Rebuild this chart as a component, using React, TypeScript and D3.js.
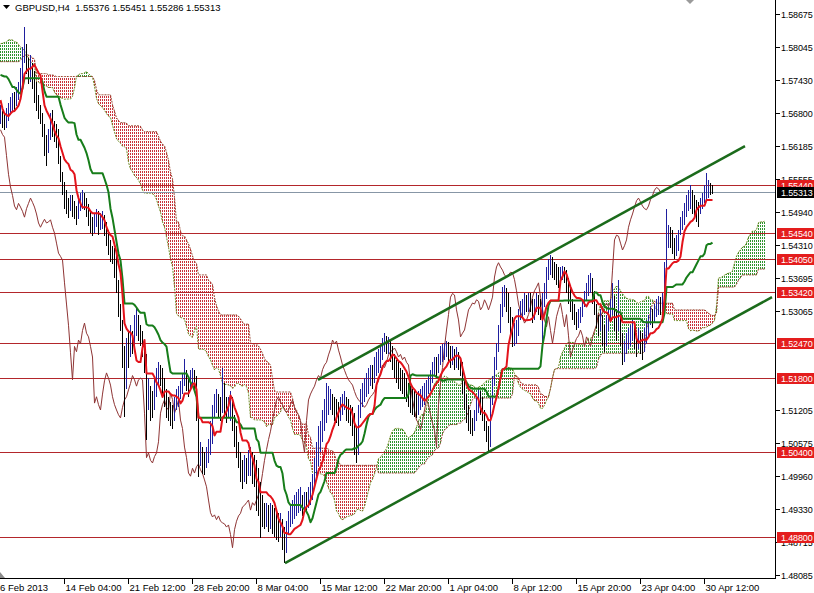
import React, { useEffect } from "react";
import * as d3 from "d3";

// ---------- data ----------
const SYMBOL = "GBPUSD,H4";
const LAST_OHLC = [1.55376, 1.55451, 1.55286, 1.55313];
const BID = 1.55313;
// prices are stored as pips above BASE
const BASE = 1.48;
const PIP = 0.0001;

// 78 H4 bars before the first visible bar (needed by the Ichimoku windows)
const PRE_HIGH = [
  945, 955, 945, 930, 935, 950, 960, 958, 945, 935,
  930, 940, 955, 965, 960, 970, 980, 975, 985, 995,
  980, 990, 1000, 995, 985, 995, 1005, 1010, 1000, 1005,
  1010, 1015, 1025, 1020, 1030, 1035, 1030, 1040, 1050, 1045,
  1025, 1020, 1030, 1025, 1015, 1020, 1030, 1035, 1040, 1030,
  1040, 1035, 1030, 1025, 1035, 1040, 1050, 1040, 1025, 1010,
  1010, 1000, 990, 985, 975, 970, 960, 955, 950, 945,
  955, 925, 910, 905, 900, 895, 885, 890,
];
const PRE_LOW = [
  915, 920, 910, 905, 907, 915, 930, 925, 915, 908,
  905, 910, 920, 935, 930, 940, 950, 945, 955, 965,
  950, 960, 970, 965, 955, 965, 975, 980, 970, 975,
  980, 985, 995, 990, 1000, 1005, 1000, 1010, 1020, 1015,
  995, 990, 1000, 995, 985, 990, 1000, 1005, 1010, 1000,
  1010, 1000, 995, 990, 1000, 1010, 1015, 1000, 990, 980,
  980, 970, 960, 955, 945, 940, 930, 925, 920, 915,
  860, 895, 885, 880, 875, 870, 855, 860,
];
const PRE_CLOSE = [
  930, 940, 925, 915, 920, 935, 945, 940, 930, 920,
  915, 925, 940, 950, 945, 955, 965, 960, 970, 980,
  965, 975, 985, 980, 970, 980, 990, 995, 985, 990,
  995, 1000, 1010, 1005, 1015, 1020, 1015, 1025, 1035, 1030,
  1010, 1005, 1015, 1010, 1000, 1005, 1015, 1020, 1025, 1015,
  1025, 1015, 1010, 1005, 1020, 1030, 1035, 1015, 1000, 990,
  995, 985, 975, 970, 960, 955, 945, 940, 935, 930,
  915, 905, 895, 890, 885, 880, 870, 875,
];

// visible bars (6 Feb 2013 .. 30 Apr 2013)
const HIGH = [
  895, 885, 878, 890, 900, 910, 918, 920, 930, 940,
  965, 1005, 1043, 1010, 985, 990, 975, 960, 940, 915,
  895, 880, 860, 840, 850, 880, 886, 865, 860, 850,
  800, 770, 750, 735, 720, 725, 725, 715, 705, 720,
  730, 735, 730, 720, 708, 695, 685, 690, 700, 695,
  692, 695, 688, 675, 660, 640, 630, 625, 615, 565,
  520, 490, 440, 455, 470, 480, 470, 500, 514, 500,
  480, 470, 450, 425, 380, 365, 355, 380, 400, 410,
  405, 400, 380, 360, 345, 335, 330, 345, 360, 365,
  375, 390, 417, 395, 385, 395, 400, 395, 385, 320,
  260, 250, 240, 250, 265, 300, 330, 350, 360, 350,
  345, 400, 370, 345, 345, 355, 345, 310, 290, 260,
  240, 225, 235, 230, 245, 250, 240, 235, 225, 210,
  185, 160, 145, 145, 140, 145, 140, 135, 130, 125,
  126, 115, 100, 110, 130, 140, 150, 160, 165, 170,
  175, 160, 165, 165, 175, 185, 200, 230, 260, 290,
  300, 320, 340, 371, 365, 360, 350, 345, 340, 335,
  345, 350, 355, 345, 340, 330, 325, 315, 290, 330,
  360, 370, 380, 390, 400, 405, 405, 420, 430, 435,
  440, 455, 465, 460, 458, 450, 440, 425, 415, 410,
  400, 395, 390, 380, 370, 365, 360, 355, 350, 355,
  360, 365, 370, 377, 385, 395, 410, 420, 420, 425,
  440, 445, 446, 450, 448, 440, 440, 435, 438, 430,
  420, 410, 380, 350, 330, 320, 305, 320, 345, 360,
  355, 345, 320, 300, 290, 345, 385, 420, 446, 480,
  520, 552, 555, 550, 540, 515, 495, 485, 490, 510,
  525, 530, 540, 538, 541, 540, 530, 530, 541, 538,
  530, 540, 560, 590, 605, 613, 608, 600, 595, 590,
  590, 592, 590, 584, 570, 550, 530, 520, 505, 510,
  515, 530, 545, 560, 575, 579, 570, 545, 520, 500,
  510, 500, 480, 500, 515, 530, 560, 535, 510, 566,
  505, 465, 450, 465, 475, 480, 490, 480, 465, 475,
  470, 465, 475, 490, 500, 515, 510, 520, 530, 535,
  533, 540, 600, 699, 670, 665, 660, 645, 650, 660,
  684, 695, 710, 725, 735, 745, 735, 725, 717, 712,
  720, 730, 745, 767, 755, 748, 745.1,
];
const LOW = [
  860, 852, 849, 852, 866, 876, 885, 885, 893, 905,
  920, 935, 975, 955, 935, 940, 925, 900, 885, 870,
  860, 835, 800, 780, 805, 830, 835, 825, 815, 785,
  750, 725, 700, 690, 682, 695, 685, 680, 670, 680,
  695, 700, 698, 685, 668, 655, 648, 655, 665, 650,
  660, 662, 648, 630, 612, 600, 595, 570, 540, 495,
  470, 400, 307, 360, 400, 420, 425, 440, 460, 450,
  440, 420, 390, 264, 320, 300, 305, 320, 345, 365,
  365, 345, 325, 305, 300, 290, 285, 300, 320, 325,
  340, 350, 365, 355, 345, 360, 365, 360, 300, 194,
  215, 200, 198, 210, 220, 235, 255, 305, 315, 305,
  300, 315, 305, 295, 305, 300, 280, 250, 230, 210,
  185, 170, 185, 180, 195, 195, 180, 175, 130, 120,
  79, 100, 95, 100, 90, 95, 85, 80, 75, 70,
  80, 55, 31, 50, 85, 100, 105, 115, 120, 125,
  130, 120, 125, 125, 135, 140, 150, 170, 195, 215,
  240, 260, 280, 295, 310, 320, 310, 300, 295, 290,
  300, 310, 320, 300, 295, 290, 270, 235, 220, 235,
  305, 325, 335, 345, 350, 365, 360, 370, 385, 390,
  400, 415, 430, 425, 425, 410, 395, 380, 370, 360,
  355, 350, 340, 335, 325, 315, 310, 307, 305, 310,
  320, 325, 330, 340, 350, 355, 370, 385, 380, 390,
  405, 410, 415, 420, 412, 400, 405, 396, 400, 395,
  385, 350, 320, 295, 280, 275, 270, 280, 300, 315,
  310, 300, 280, 260, 241, 250, 330, 365, 395, 430,
  465, 495, 515, 505, 485, 455, 439, 440, 445, 460,
  490, 495, 500, 505, 505, 505, 485, 490, 505, 500,
  490, 440, 515, 530, 565, 575, 570, 565, 555, 550,
  560, 565, 560, 540, 520, 505, 490, 480, 471, 475,
  485, 495, 515, 525, 535, 540, 520, 500, 475, 460,
  470, 440, 430, 440, 470, 490, 500, 470, 450, 470,
  440, 405, 410, 425, 435, 440, 450, 435, 420, 435,
  425, 415, 430, 445, 460, 480, 475, 485, 495, 500,
  500, 505, 520, 575, 625, 625, 615, 605, 610, 620,
  650, 660, 670, 685, 695, 700, 690, 680, 675, 666,
  690, 700, 710, 715, 720, 725, 728.6,
];
const CLOSE = [
  877, 866, 858, 872, 886, 893, 905, 898, 915, 925,
  940, 985, 1000, 970, 952, 960, 943, 930, 905, 890,
  870, 849, 830, 811, 835, 858, 849, 840, 835, 800,
  765, 741, 725, 705, 698, 710, 703, 695, 684, 700,
  710, 720, 712, 703, 690, 673, 665, 673, 680, 673,
  675, 679, 665, 654, 635, 616, 610, 603, 560, 520,
  480, 428, 377, 440, 430, 452, 445, 470, 484, 465,
  458, 440, 420, 333, 345, 330, 320, 350, 375, 390,
  380, 367, 345, 330, 320, 311, 305, 325, 339, 345,
  358, 370, 385, 377, 365, 377, 380, 377, 314, 230,
  239, 225, 220, 232, 239, 260, 314, 330, 339, 325,
  320, 352, 340, 314, 325, 339, 301, 285, 250, 230,
  201, 195, 210, 201, 213, 218, 207, 200, 188, 175,
  150, 126, 118, 122, 113, 120, 110, 107, 105, 99,
  103, 85, 60, 94, 110, 120, 125, 137, 140, 145,
  150, 131, 145, 140, 150, 160, 175, 200, 225, 245,
  264, 280, 301, 320, 339, 345, 335, 330, 320, 315,
  320, 330, 339, 325, 315, 311, 300, 264, 240, 300,
  339, 350, 358, 365, 377, 385, 380, 396, 405, 410,
  424, 435, 452, 445, 450, 433, 420, 405, 395, 385,
  377, 372, 367, 355, 345, 339, 335, 330, 325, 330,
  339, 345, 349, 355, 367, 375, 390, 405, 400, 410,
  424, 430, 433, 437, 430, 420, 425, 415, 420, 410,
  405, 370, 339, 320, 301, 295, 282, 300, 320, 339,
  330, 311, 295, 282, 250, 330, 371, 400, 439, 471,
  500, 533, 540, 537, 509, 490, 458, 465, 471, 490,
  509, 515, 522, 520, 528, 525, 509, 515, 528, 520,
  509, 520, 533, 571, 590, 598, 590, 584, 575, 571,
  575, 580, 579, 566, 545, 520, 505, 495, 484, 490,
  500, 515, 533, 545, 552, 560, 533, 510, 490, 477,
  496, 470, 446, 470, 496, 510, 522, 500, 477, 500,
  460, 420, 433, 445, 455, 460, 471, 460, 439, 458,
  450, 440, 458, 470, 480, 503, 495, 505, 515, 522,
  515, 525, 584, 641, 650, 648, 635, 622, 630, 641,
  665, 679, 690, 703, 715, 720, 713, 705, 700, 698,
  705, 717, 725, 735, 740, 737.6, 731.3,
];

const PRICE_TICKS = [
  1.58675, 1.58045, 1.5743, 1.568, 1.56185, 1.55555, 1.5494, 1.5431, 1.53695,
  1.53065, 1.51205, 1.50575, 1.4996, 1.4933, 1.48715, 1.48085,
];
const TIME_LABELS = [
  "6 Feb 2013", "14 Feb 04:00", "21 Feb 12:00", "28 Feb 20:00", "8 Mar 04:00",
  "15 Mar 12:00", "22 Mar 20:00", "1 Apr 04:00", "8 Apr 12:00", "15 Apr 20:00",
  "23 Apr 04:00", "30 Apr 12:00",
];
const TIME_LABEL_BARS = [0, 32, 64, 96, 128, 160, 192, 224, 256, 288, 320, 352];
const LEVELS = [1.5544, 1.5454, 1.5405, 1.5342, 1.5247, 1.518, 1.504, 1.488];
// trend channel: [bar index, price]
const UPPER_CHANNEL: [number, number][] = [[159, 1.5177], [372.5, 1.5618]];
const LOWER_CHANNEL: [number, number][] = [[142.5, 1.4831], [386, 1.5333]];
const TENKAN_P = 9;
const KIJUN_P = 26;
const SENKOU_P = 52;
const SHIFT = 26;

// ---------- layout ----------
const W = 814;
const H = 593;
const PR = 775; // right edge of plot
const PB = 578; // bottom edge of plot
const FONT = "'Liberation Sans', Arial, sans-serif";

const C = {
  up: "#1f1f9e",
  down: "#000000",
  tenkan: "#e3131b",
  kijun: "#177d1a",
  chikou: "#8e3434",
  level: "#b3262b",
  bid: "#8796a6",
  cloudRed: "#c8323a",
  cloudGreen: "#2f942f",
  spanA: "#6f8a25",
  spanB: "#9a4a35",
  channel: "#1b6b1b",
  label: "#e41d1d",
};

const toPrice = (v: number) => BASE + v * PIP;

export default function App() {
  useEffect(() => {
    document.body.style.margin = "0";
    document.body.style.background = "#fff";
  }, []);

  const preN = PRE_HIGH.length;
  const n = HIGH.length;
  const allH = [...PRE_HIGH, ...HIGH].map(toPrice);
  const allL = [...PRE_LOW, ...LOW].map(toPrice);
  const allC = [...PRE_CLOSE, ...CLOSE].map(toPrice);

  const mid = (k: number, p: number) => {
    const hs = allH.slice(k - p + 1, k + 1);
    const ls = allL.slice(k - p + 1, k + 1);
    return ((d3.max(hs) as number) + (d3.min(ls) as number)) / 2;
  };

  const bars = d3.range(n);
  const tenkan = bars.map((i) => mid(i + preN, TENKAN_P));
  const kijun = bars.map((i) => mid(i + preN, KIJUN_P));
  const cloudIdx = d3.range(n + SHIFT);
  const spanA = cloudIdx.map((j) => {
    const k = j + preN - SHIFT;
    return (mid(k, TENKAN_P) + mid(k, KIJUN_P)) / 2;
  });
  const spanB = cloudIdx.map((j) => mid(j + preN - SHIFT, SENKOU_P));

  const x = d3.scaleLinear().domain([0, 387.5]).range([0, PR]);
  const y = d3.scaleLinear().domain([1.48085, 1.58675]).range([575, 14]);
  const xc = (i: number) => Math.round(x(i)) + 0.5;

  const lineGen = d3
    .line<[number, number]>()
    .x((d) => x(d[0]) + 0.5)
    .y((d) => y(d[1]));

  const tenkanPath = lineGen(bars.map((i) => [i, tenkan[i]] as [number, number]));
  const kijunPath = lineGen(bars.map((i) => [i, kijun[i]] as [number, number]));
  const chikouPath = lineGen(
    d3.range(SHIFT, n).map((i) => [i - SHIFT, allC[i + preN]] as [number, number])
  );
  const spanAPath = lineGen(cloudIdx.map((j) => [j, spanA[j]] as [number, number]));
  const spanBPath = lineGen(cloudIdx.map((j) => [j, spanB[j]] as [number, number]));

  const fmt = (v: number) => v.toFixed(5);
  const AX_FS = 9;
  const AX_LS = -0.15;

  return (
    <svg
      width={W}
      height={H}
      viewBox={`0 0 ${W} ${H}`}
      style={{ display: "block", background: "#fff" }}
      fontFamily={FONT}
    >
      <defs>
        <clipPath id="plot">
          <rect x={0} y={0} width={PR} height={PB} />
        </clipPath>
      </defs>

      <g clipPath="url(#plot)">
        {/* cloud hatch */}
        <g shapeRendering="crispEdges">
          {cloudIdx.map((j) => {
            const a = spanA[j];
            const b = spanB[j];
            const top = Math.round(y(Math.max(a, b)));
            const bot = Math.round(y(Math.min(a, b)));
            if (bot - top < 1) return null;
            return (
              <line
                key={"c" + j}
                x1={xc(j)}
                x2={xc(j)}
                y1={top}
                y2={bot}
                stroke={a >= b ? C.cloudGreen : C.cloudRed}
                strokeWidth={1}
                strokeDasharray="2 1"
                strokeDashoffset={top % 3}
              />
            );
          })}
        </g>
        <path d={spanAPath || ""} fill="none" stroke={C.spanA} strokeWidth={1} strokeDasharray="2 1" />
        <path d={spanBPath || ""} fill="none" stroke={C.spanB} strokeWidth={1} strokeDasharray="2 1" />

        {/* horizontal levels */}
        <g shapeRendering="crispEdges">
          {LEVELS.map((lv) => (
            <line
              key={"lv" + lv}
              x1={0}
              x2={PR}
              y1={Math.round(y(lv)) + 0.5}
              y2={Math.round(y(lv)) + 0.5}
              stroke={C.level}
              strokeWidth={1}
            />
          ))}
          <line
            x1={0}
            x2={PR}
            y1={Math.round(y(BID)) + 0.5}
            y2={Math.round(y(BID)) + 0.5}
            stroke={C.bid}
            strokeWidth={1}
          />
        </g>

        {/* chikou */}
        <path d={chikouPath || ""} fill="none" stroke={C.chikou} strokeWidth={1} />

        {/* price bars */}
        <g shapeRendering="crispEdges">
          {bars.map((i) => {
            const o = allC[i + preN - 1];
            const c = allC[i + preN];
            const hi = Math.round(y(allH[i + preN]));
            const lo = Math.round(y(allL[i + preN]));
            return (
              <line
                key={"b" + i}
                x1={xc(i)}
                x2={xc(i)}
                y1={hi}
                y2={Math.max(lo, hi + 1)}
                stroke={c >= o ? C.up : C.down}
                strokeWidth={1}
              />
            );
          })}
        </g>

        {/* kijun & tenkan */}
        <path d={kijunPath || ""} fill="none" stroke={C.kijun} strokeWidth={2} strokeLinejoin="round" />
        <path d={tenkanPath || ""} fill="none" stroke={C.tenkan} strokeWidth={2} strokeLinejoin="round" />

        {/* trend channel */}
        {[UPPER_CHANNEL, LOWER_CHANNEL].map((ln, k) => (
          <line
            key={"ch" + k}
            x1={x(ln[0][0])}
            y1={y(ln[0][1])}
            x2={x(ln[1][0])}
            y2={y(ln[1][1])}
            stroke={C.channel}
            strokeWidth={2.5}
          />
        ))}
      </g>

      {/* header */}
      <polygon points="3,5 10,5 6.5,9" fill="#000" />
      <text x={15} y={11} fontSize={9.5} fill="#000" style={{ whiteSpace: "pre" }}>
        {`${SYMBOL}  ${LAST_OHLC.map(fmt).join(" ")}`}
      </text>
      <polygon points="686,0 694,0 690,4" fill="#9a9a9a" />

      {/* axes */}
      <g shapeRendering="crispEdges">
        <line x1={PR + 0.5} x2={PR + 0.5} y1={0} y2={PB + 1} stroke="#000" />
        <line x1={0} x2={PR + 1} y1={PB + 0.5} y2={PB + 0.5} stroke="#000" />
      </g>
      <polygon points="0,572 5,578 0,578" fill="#8c8c8c" />

      {/* price ticks */}
      {PRICE_TICKS.map((t) => {
        const yy = Math.round(y(t)) + 0.5;
        return (
          <g key={"pt" + t}>
            <line x1={PR + 1} x2={PR + 5} y1={yy} y2={yy} stroke="#000" shapeRendering="crispEdges" />
            <text x={781} y={yy + 3.2} fontSize={AX_FS} letterSpacing={AX_LS} fill="#000">
              {fmt(t)}
            </text>
          </g>
        );
      })}

      {/* level labels */}
      {LEVELS.map((lv) => {
        const yy = Math.round(y(lv));
        return (
          <g key={"ll" + lv}>
            <rect x={777} y={yy - 5} width={40} height={11} fill={C.label} shapeRendering="crispEdges" />
            <text x={781} y={yy + 3.8} fontSize={AX_FS} letterSpacing={AX_LS} fill="#fff">
              {fmt(lv)}
            </text>
          </g>
        );
      })}
      <g>
        <rect
          x={777}
          y={Math.round(y(BID)) - 5}
          width={40}
          height={11}
          fill="#000"
          shapeRendering="crispEdges"
        />
        <text x={781} y={Math.round(y(BID)) + 3.8} fontSize={AX_FS} letterSpacing={AX_LS} fill="#fff">
          {fmt(BID)}
        </text>
      </g>

      {/* time axis */}
      {TIME_LABEL_BARS.map((b, k) => {
        const xx = Math.round(x(b)) + 0.5;
        return (
          <g key={"tl" + b}>
            {k > 0 && (
              <line x1={xx} x2={xx} y1={PB + 1} y2={PB + 6} stroke="#000" shapeRendering="crispEdges" />
            )}
            <text x={k === 0 ? 0 : xx + 1} y={591} fontSize={9.5} fill="#000">
              {TIME_LABELS[k]}
            </text>
          </g>
        );
      })}
    </svg>
  );
}
